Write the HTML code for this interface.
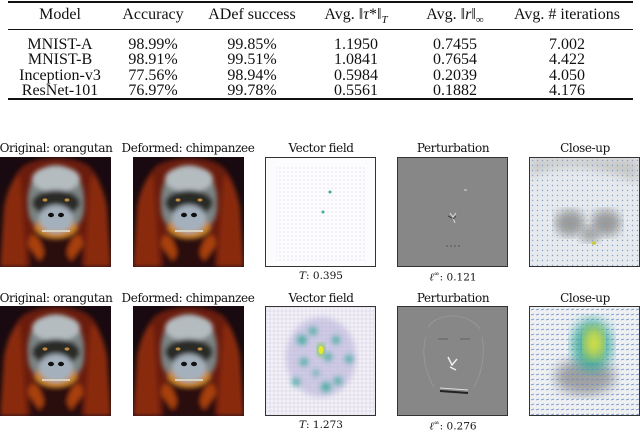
<!DOCTYPE html>
<html><head><meta charset="utf-8">
<style>
body{margin:0;width:640px;height:427px;background:#fff;position:relative;overflow:hidden;font-family:"Liberation Serif",serif;color:#111}
.rule{position:absolute;left:8px;width:625px;background:#111}
.cell{position:absolute;font-size:16px;transform:translateX(-50%);white-space:nowrap;line-height:16px}
.ttl{position:absolute;font-size:12px;transform:translateX(-50%);white-space:nowrap;font-family:"DejaVu Serif","Liberation Serif",serif;letter-spacing:-0.4px}
.cap{position:absolute;font-size:10.5px;transform:translateX(-50%);white-space:nowrap;font-family:"DejaVu Serif","Liberation Serif",serif}
.img{position:absolute;width:111px;height:110px;box-sizing:border-box}
svg{display:block}
</style></head><body>
<div>
<div class="rule" style="top:1px;height:1.5px"></div>
<div class="rule" style="top:29px;height:1px"></div>
<div class="rule" style="top:98px;height:1.5px"></div>
<div class="cell" style="left:60px;top:7px">Model</div>
<div class="cell" style="left:153px;top:7px">Accuracy</div>
<div class="cell" style="left:252px;top:7px">ADef success</div>
<div class="cell" style="left:356px;top:7px">Avg. ‖<i>τ</i>*‖<sub style="font-size:11px"><i>T</i></sub></div>
<div class="cell" style="left:455px;top:7px">Avg. ‖<i>r</i>‖<sub style="font-size:11px">∞</sub></div>
<div class="cell" style="left:567px;top:7px">Avg. # iterations</div>

<div class="cell" style="left:60px;top:37px">MNIST-A</div>
<div class="cell" style="left:153px;top:37px">98.99%</div>
<div class="cell" style="left:252px;top:37px">99.85%</div>
<div class="cell" style="left:356px;top:37px">1.1950</div>
<div class="cell" style="left:455px;top:37px">0.7455</div>
<div class="cell" style="left:567px;top:37px">7.002</div>

<div class="cell" style="left:60px;top:52px">MNIST-B</div>
<div class="cell" style="left:153px;top:52px">98.91%</div>
<div class="cell" style="left:252px;top:52px">99.51%</div>
<div class="cell" style="left:356px;top:52px">1.0841</div>
<div class="cell" style="left:455px;top:52px">0.7654</div>
<div class="cell" style="left:567px;top:52px">4.422</div>

<div class="cell" style="left:60px;top:68px">Inception-v3</div>
<div class="cell" style="left:153px;top:68px">77.56%</div>
<div class="cell" style="left:252px;top:68px">98.94%</div>
<div class="cell" style="left:356px;top:68px">0.5984</div>
<div class="cell" style="left:455px;top:68px">0.2039</div>
<div class="cell" style="left:567px;top:68px">4.050</div>

<div class="cell" style="left:60px;top:83px">ResNet-101</div>
<div class="cell" style="left:153px;top:83px">76.97%</div>
<div class="cell" style="left:252px;top:83px">99.78%</div>
<div class="cell" style="left:356px;top:83px">0.5561</div>
<div class="cell" style="left:455px;top:83px">0.1882</div>
<div class="cell" style="left:567px;top:83px">4.176</div>
</div>

<svg width="0" height="0" style="position:absolute">
<defs>
<filter id="soft"><feGaussianBlur stdDeviation="2.5"/></filter>
<symbol id="ape" viewBox="0 0 111 110">
<rect width="111" height="110" fill="#180a10"/>
<g filter="url(#soft)">
<path d="M5 110 C0 70 6 25 22 10 C38 -2 75 -2 90 10 C106 25 111 70 106 110Z" fill="#6a1e10"/>
<path d="M0 110 L4 50 C8 30 14 20 20 18 L26 110Z" fill="#8a2a10"/>
<path d="M111 110 L107 50 C103 30 97 20 91 18 L85 110Z" fill="#8a2a10"/>
<path d="M30 110 C28 92 30 78 38 72 L74 72 C82 78 84 92 82 110Z" fill="#2a0e10"/>
<path d="M28 88 C30 70 40 78 44 96 L40 104Z M83 88 C81 70 71 78 67 96 L71 104Z" fill="#a8400e"/>
</g>
<g filter="url(#soft)">
<path d="M28 50 C26 25 38 8 56 8 C74 8 86 25 84 50 C84 60 80 66 76 70 L36 70 C32 66 28 60 28 50Z" fill="#7c8484"/>
<ellipse cx="56" cy="22" rx="24" ry="13" fill="#b4bcc0"/>
<ellipse cx="56" cy="46" rx="24" ry="13" fill="#2c2c28"/>
<path d="M34 70 C36 86 76 86 78 70 L72 62 L40 62Z" fill="#c8842a"/>
<ellipse cx="56" cy="62" rx="17" ry="14" fill="#a4b0bc"/>
</g>
<ellipse cx="51" cy="58" rx="3" ry="2.2" fill="#111"/>
<ellipse cx="61" cy="58" rx="3" ry="2.2" fill="#111"/>
<ellipse cx="45" cy="43" rx="2.5" ry="1.6" fill="#c08a40"/>
<ellipse cx="67" cy="43" rx="2.5" ry="1.6" fill="#c08a40"/>
<rect x="42" y="73" width="28" height="2" fill="#d8d0c0"/>
</symbol>
</defs>
</svg>

<!-- Row 1 -->
<div class="ttl" style="left:56px;top:141px">Original: orangutan</div>
<div class="ttl" style="left:188px;top:141px">Deformed: chimpanzee</div>
<div class="ttl" style="left:321px;top:141px">Vector field</div>
<div class="ttl" style="left:453px;top:141px">Perturbation</div>
<div class="ttl" style="left:585px;top:141px">Close-up</div>

<div class="img" style="left:0;top:157px"><svg width="111" height="110"><use href="#ape"/></svg></div>
<div class="img" style="left:133px;top:157px"><svg width="111" height="110"><use href="#ape"/></svg></div>
<div class="img" style="left:265px;top:157px;border:1px solid #333;background:#fcfbfd">
<svg width="109" height="108"><defs><pattern id="g1" width="4" height="4" patternUnits="userSpaceOnUse"><circle cx="2" cy="2" r="0.6" fill="#c8c0d8"/></pattern></defs><rect x="10" y="8" width="90" height="95" fill="url(#g1)" opacity="0.7"/><circle cx="64" cy="34" r="1.5" fill="#4a9"/><circle cx="57" cy="54" r="1.5" fill="#4a9"/></svg></div>
<div class="img" style="left:397px;top:157px;border:1px solid #333;background:#878787">
<svg width="109" height="108"><g fill="none" stroke-width="1"><path d="M52 55 l3 4 l3 -4 M55 60 l2 5" stroke="#ddd"/><path d="M50 58 l4 2 M58 58 l-3 3" stroke="#444"/><path d="M48 88 l14 0" stroke="#555" stroke-dasharray="2 2"/><path d="M66 32 l3 0" stroke="#ddd"/></g></svg></div>
<div class="img" style="left:529px;top:157px;border:1px solid #333;background:#e6eaee">
<svg width="109" height="108"><defs><pattern id="g2" width="5" height="5" patternUnits="userSpaceOnUse"><circle cx="2.5" cy="2.5" r="0.7" fill="#8aa0c0"/></pattern><filter id="b1"><feGaussianBlur stdDeviation="5"/></filter></defs><path d="M0 20 C30 0 70 10 109 25 L109 0 L0 0Z" fill="#c8c8c8" filter="url(#b1)"/><ellipse cx="40" cy="65" rx="15" ry="13" fill="#9a9a9a" filter="url(#b1)"/><ellipse cx="76" cy="65" rx="15" ry="13" fill="#9a9a9a" filter="url(#b1)"/><ellipse cx="60" cy="76" rx="10" ry="8" fill="#a0a0a0" filter="url(#b1)"/><rect width="109" height="108" fill="url(#g2)"/><circle cx="64" cy="85" r="2" fill="#cc4"/></svg></div>

<div class="cap" style="left:321px;top:270px"><i>T</i>: 0.395</div>
<div class="cap" style="left:453px;top:270px"><i>ℓ</i><sup style="font-size:7px">∞</sup>: 0.121</div>

<!-- Row 2 -->
<div class="ttl" style="left:56px;top:291px">Original: orangutan</div>
<div class="ttl" style="left:188px;top:291px">Deformed: chimpanzee</div>
<div class="ttl" style="left:321px;top:291px">Vector field</div>
<div class="ttl" style="left:453px;top:291px">Perturbation</div>
<div class="ttl" style="left:585px;top:291px">Close-up</div>

<div class="img" style="left:0;top:306px"><svg width="111" height="110"><use href="#ape"/></svg></div>
<div class="img" style="left:133px;top:306px"><svg width="111" height="110"><use href="#ape"/></svg></div>
<div class="img" style="left:265px;top:306px;border:1px solid #333;background:#f4f2f8">
<svg width="109" height="108"><defs><pattern id="g3" width="4" height="4" patternUnits="userSpaceOnUse"><rect width="4" height="4" fill="none" stroke="#d0cce0" stroke-width="0.5"/></pattern><filter id="b2"><feGaussianBlur stdDeviation="3"/></filter></defs><rect width="109" height="108" fill="url(#g3)"/>
<g filter="url(#b2)"><ellipse cx="55" cy="50" rx="35" ry="40" fill="#b8b0d8" opacity="0.6"/></g>
<g fill="#3aa89a" filter="url(#b2)" opacity="0.9"><circle cx="36" cy="33" r="5"/><circle cx="47" cy="24" r="4"/><circle cx="70" cy="33" r="4"/><circle cx="62" cy="50" r="4"/><circle cx="83" cy="52" r="4"/><circle cx="38" cy="55" r="4"/><circle cx="30" cy="75" r="4"/><circle cx="60" cy="80" r="5"/><circle cx="72" cy="74" r="4"/><circle cx="50" cy="66" r="3"/></g>
<ellipse cx="55" cy="43" rx="4" ry="7" fill="#7acb5a" filter="url(#b2)"/><ellipse cx="55" cy="43" rx="2.5" ry="4" fill="#e8e830"/></svg></div>
<div class="img" style="left:397px;top:306px;border:1px solid #333;background:#878787">
<svg width="109" height="108"><g fill="none" stroke-width="0.8"><path d="M30 20 C40 5 70 5 82 22 M28 30 C22 50 30 70 36 80 M84 30 C88 50 82 70 76 80" stroke="#9a9a9a"/><path d="M40 32 l10 0 M62 32 l10 0" stroke="#555"/><path d="M50 50 l4 8 l5 -6 M52 60 l6 3" stroke="#eee" stroke-width="1.5"/><path d="M42 84 l28 2" stroke="#222" stroke-width="2"/><path d="M42 81 l28 2" stroke="#ddd" stroke-width="1"/></g></svg></div>
<div class="img" style="left:529px;top:306px;border:1px solid #333;background:#eef0f2">
<svg width="109" height="108"><defs><pattern id="g4" width="5" height="5" patternUnits="userSpaceOnUse"><path d="M1 3 l3 -1" stroke="#6a8ac8" stroke-width="0.8"/></pattern><filter id="b3"><feGaussianBlur stdDeviation="6"/></filter></defs><ellipse cx="55" cy="70" rx="30" ry="18" fill="#a0a0a0" filter="url(#b3)"/><rect width="109" height="108" fill="url(#g4)"/><ellipse cx="62" cy="38" rx="20" ry="26" fill="#3aa89a" filter="url(#b3)" opacity="0.9"/><ellipse cx="64" cy="36" rx="10" ry="16" fill="#d8e040" filter="url(#b3)"/></svg></div>

<div class="cap" style="left:321px;top:419px"><i>T</i>: 1.273</div>
<div class="cap" style="left:453px;top:419px"><i>ℓ</i><sup style="font-size:7px">∞</sup>: 0.276</div>
</body></html>
